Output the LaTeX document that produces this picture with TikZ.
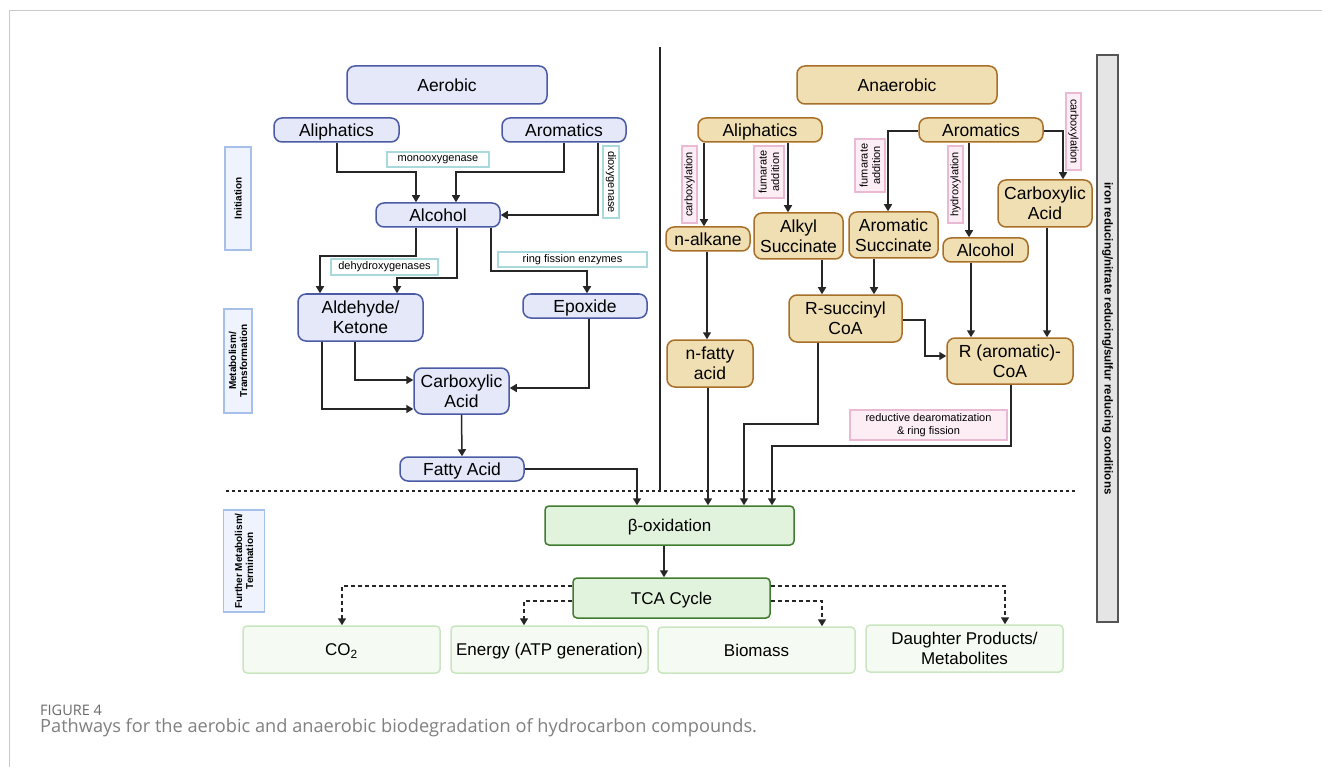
\documentclass[tikz,border=0pt]{standalone}
\usepackage{fontspec}
\setmainfont{Liberation Sans}
\newfontfamily\capfont{Open Sans}
\usetikzlibrary{arrows.meta}
\definecolor{aerF}{HTML}{E4E8F8}
\definecolor{aerD}{HTML}{4B5AA5}
\definecolor{anaF}{HTML}{F0DFB3}
\definecolor{anaD}{HTML}{A86F28}
\definecolor{tealL}{HTML}{A9D9DC}
\definecolor{pinkL}{HTML}{EAB9D3}
\definecolor{pinkF}{HTML}{FDEEF6}
\definecolor{grF}{HTML}{E1F3DC}
\definecolor{grD}{HTML}{3F7C2F}
\definecolor{glF}{HTML}{F5FBF2}
\definecolor{glD}{HTML}{C9E6C0}
\definecolor{sideF}{HTML}{EEF3FD}
\definecolor{sideD}{HTML}{A6C0EA}
\definecolor{barF}{HTML}{E5E5E5}
\definecolor{barD}{HTML}{555555}
\definecolor{lineC}{HTML}{262626}
\definecolor{frameC}{HTML}{C8C8C8}
\definecolor{capA}{HTML}{6B6B6B}
\definecolor{capB}{HTML}{808080}
\begin{document}
\begin{tikzpicture}[x=1pt,y=-1pt,
  box/.style={rounded corners=8pt, line width=1.5pt, inner sep=0pt, align=center, font=\fontsize{17.5}{20}\selectfont},
  one/.style={text height=12.6pt, text depth=0pt},
  aer/.style={box, draw=aerD, fill=aerF},
  ana/.style={box, draw=anaD, fill=anaF},
  gbox/.style={box, rounded corners=4pt, draw=grD, fill=grF, font=\fontsize{17}{20}\selectfont},
  lbox/.style={box, rounded corners=4pt, draw=glD, fill=glF, font=\fontsize{17}{20}\selectfont},
  tlbl/.style={draw=tealL, fill=white, line width=1.2pt, inner sep=0pt, align=center, font=\fontsize{11}{12.5}\selectfont},
  plbl/.style={draw=pinkL, fill=pinkF, line width=1.2pt, inner sep=0pt, align=center, font=\fontsize{11}{12.5}\selectfont},
  side/.style={draw=sideD, fill=sideF, line width=1.2pt, inner sep=0pt, align=center, rotate=90, font=\bfseries\fontsize{10}{11}\selectfont},
  arr/.style={line width=1.5pt, draw=lineC, -{Triangle[length=7pt,width=8pt]}},
  darr/.style={arr, dash pattern=on 4pt off 3pt}
]
\fill[white] (0,0) rectangle (1322,767);
\useasboundingbox (0,0) rectangle (1322,767);
% frame
\draw[frameC, line width=1pt] (1322,11) -- (9,11) -- (9,767);
% divider and dashed separator
\draw[lineC, line width=1.5pt] (660,47) -- (660,490);
\draw[lineC, line width=1.5pt, dash pattern=on 3pt off 3pt] (226,491) -- (1075,491);

% side labels
\node[side, minimum width=103, minimum height=26] (sInit) at (238,198.5) {Initiation};
\node[side, minimum width=104, minimum height=28] (sMeta) at (238,361) {Metabolism/\\Transformation};
\node[side, minimum width=102, minimum height=41] (sFurt) at (244,561) {Further Metabolism/\\Termination};
\node[draw=barD, fill=barF, line width=1.5pt, inner sep=0pt, rotate=-90, minimum width=567, minimum height=21, font=\bfseries\fontsize{11.5}{13}\selectfont] (bar) at (1107.5,338.5) {iron reducing/nitrate reducing/sulfur reducing conditions};

% aerobic nodes
\node[aer, one, minimum width=200, minimum height=38] (aer) at (447,85) {Aerobic};
\node[aer, one, minimum width=125, minimum height=24] (aAli) at (336.5,130) {Aliphatics};
\node[aer, one, minimum width=124, minimum height=24] (aAro) at (564,130) {Aromatics};
\node[aer, one, minimum width=124, minimum height=24] (aAlc) at (438,215) {Alcohol};
\node[aer, minimum width=125, minimum height=47] (aAld) at (360.5,317.5) {Aldehyde/\\Ketone};
\node[aer, one, minimum width=124, minimum height=24] (aEpo) at (585,306) {Epoxide};
\node[aer, minimum width=95, minimum height=46] (aCar) at (461.5,391) {Carboxylic\\Acid};
\node[aer, one, minimum width=124, minimum height=24] (aFat) at (462,469) {Fatty Acid};

% aerobic labels
\node[tlbl, minimum width=102, minimum height=15] (lMono) at (438,159.5) {monooxygenase};
\node[tlbl, rotate=-90, minimum width=72, minimum height=16] (lDiox) at (611,182) {dioxygenase};
\node[tlbl, minimum width=107, minimum height=16] (lDehy) at (384.5,267) {dehydroxygenases};
\node[tlbl, minimum width=149, minimum height=15] (lRing) at (572.5,259.5) {ring fission enzymes};

% anaerobic nodes
\node[ana, one, minimum width=200, minimum height=38] (ana) at (897,85) {Anaerobic};
\node[ana, one, minimum width=124, minimum height=24] (nAli) at (760,130) {Aliphatics};
\node[ana, one, minimum width=124, minimum height=24] (nAro) at (981,130) {Aromatics};
\node[ana, one, minimum width=84, minimum height=24] (nAlk) at (708,239) {n-alkane};
\node[ana, minimum width=89, minimum height=46] (nAS) at (798.5,236) {Alkyl\\Succinate};
\node[ana, minimum width=89, minimum height=46] (nArS) at (893.5,235) {Aromatic\\Succinate};
\node[ana, one, minimum width=85, minimum height=24] (nAlc) at (985.5,250) {Alcohol};
\node[ana, minimum width=94, minimum height=47] (nCar) at (1045,203.5) {Carboxylic\\Acid};
\node[ana, minimum width=113, minimum height=47] (nRS) at (845.5,318.5) {R-succinyl\\CoA};
\node[ana, minimum width=86, minimum height=47] (nFat) at (710,363.5) {n-fatty\\acid};
\node[ana, minimum width=126, minimum height=46] (nRC) at (1010,361) {R (aromatic)-\\CoA};

% anaerobic labels
\node[plbl, rotate=90, minimum width=77, minimum height=15] (lCb1) at (689.5,184.5) {carboxylation};
\node[plbl, rotate=90, minimum width=52, minimum height=30] (lFu1) at (769,172) {fumarate\\addition};
\node[plbl, rotate=90, minimum width=53, minimum height=30] (lFu2) at (870,165.5) {fumarate\\addition};
\node[plbl, rotate=90, minimum width=77, minimum height=15] (lHyd) at (955.5,184.5) {hydroxylation};
\node[plbl, rotate=-90, minimum width=77, minimum height=15] (lCb2) at (1073.5,131.5) {carboxylation};
\node[plbl, minimum width=157, minimum height=30] (lRed) at (928.5,425) {reductive dearomatization\\\& ring fission};

% bottom nodes
\node[gbox, one, minimum width=249, minimum height=39] (beta) at (669.5,525.5) {β-oxidation};
\node[gbox, one, minimum width=197, minimum height=40] (tca) at (671.5,598) {TCA Cycle};
\node[lbox, one, minimum width=197, minimum height=47] (co2) at (341.5,649.5) {CO\textsubscript{2}};
\node[lbox, one, minimum width=197, minimum height=47] (energy) at (549.5,649.5) {Energy (ATP generation)};
\node[lbox, one, minimum width=197, minimum height=46] (biomass) at (756.5,650) {Biomass};
\node[lbox, minimum width=197, minimum height=47] (daughter) at (964.5,648.5) {Daughter Products/\\Metabolites};

% aerobic connectors
\draw[arr] (aAli.south -| 337,0) -- (337,172) -| (aAlc.north -| 416,0);
\draw[arr] (aAro.south -| 564,0) -- (564,172) -| (aAlc.north -| 456,0);
\draw[arr] (aAro.south -| 598,0) |- (aAlc.east);
\draw[arr] (aAlc.south -| 416,0) -- (416,256) -| (aAld.north -| 320,0);
\draw[arr] (aAlc.south -| 457,0) -- (457,278) -| (aAld.north -| 397,0);
\draw[arr] (aAlc.south -| 491,0) -- (491,271) -| (aEpo.north -| 587,0);
\draw[arr] (aAld.south -| 355,0) |- (aCar.west |- 0,380);
\draw[arr] (aAld.south -| 322,0) |- (aCar.west |- 0,409);
\draw[arr] (aEpo.south -| 589,0) |- (aCar.east |- 0,388);
\draw[arr] (aCar.south) -- (aFat.north);
\draw[arr] (aFat.east) -| (beta.north -| 637,0);

% anaerobic connectors
\draw[arr] (nAli.south -| 704,0) -- (nAlk.north -| 704,0);
\draw[arr] (nAli.south -| 788,0) -- (nAS.north -| 788,0);
\draw[arr] (nAro.west |- 0,131) -| (nArS.north -| 888,0);
\draw[arr] (nAro.south -| 969,0) -- (nAlc.north -| 969,0);
\draw[arr] (nAro.east |- 0,131) -| (nCar.north -| 1063,0);
\draw[arr] (nAS.south -| 822,0) -- (nRS.north -| 822,0);
\draw[arr] (nArS.south -| 874,0) -- (nRS.north -| 874,0);
\draw[arr] (nAlk.south -| 707,0) -- (nFat.north -| 707,0);
\draw[arr] (nAlc.south -| 971,0) -- (nRC.north -| 971,0);
\draw[arr] (nCar.south -| 1047,0) -- (nRC.north -| 1047,0);
\draw[arr] (nRS.east |- 0,320) -| (925,356) -- (nRC.west |- 0,356);
\draw[arr] (nFat.south -| 708,0) -- (beta.north -| 708,0);
\draw[arr] (nRS.south -| 818,0) -- (818,424) -| (beta.north -| 744,0);
\draw[arr] (nRC.south -| 1011,0) -- (1011,446) -| (beta.north -| 772,0);

% bottom connectors
\draw[arr] (beta.south -| 664,0) -- (tca.north -| 664,0);
\draw[darr] (tca.west |- 0,586) -| (co2.north -| 342,0);
\draw[darr] (tca.west |- 0,601) -| (energy.north -| 524,0);
\draw[darr] (tca.east |- 0,601) -| (biomass.north -| 822,0);
\draw[darr] (tca.east |- 0,586) -| (daughter.north -| 1005,0);

% caption
\node[anchor=base west, inner sep=0pt, text=capA, font=\capfont\fontsize{14.5}{16}\selectfont] (capT) at (40,715.5) {FIGURE 4};
\node[anchor=base west, inner sep=0pt, text=capB, font=\capfont\fontsize{18.2}{20}\selectfont] (capL) at (40,732.5) {Pathways for the aerobic and anaerobic biodegradation of hydrocarbon compounds.};
\end{tikzpicture}
\end{document}
